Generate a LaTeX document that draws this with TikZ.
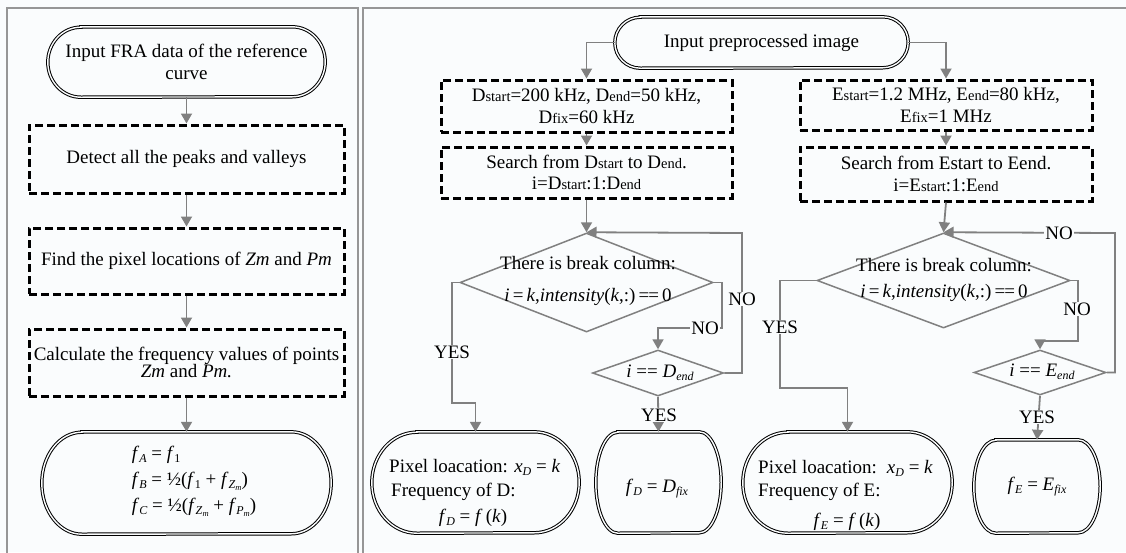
\documentclass[tikz,border=0pt]{standalone}
\usepackage{fontspec}
\setmainfont{Liberation Serif}
\usetikzlibrary{arrows.meta,shapes.geometric,calc}
\definecolor{bgc}{RGB}{250,252,253}
\definecolor{framec}{RGB}{150,150,150}
\definecolor{connc}{RGB}{128,128,128}
% small upright suffix on the baseline (D start, E end ...)
\newcommand{\sfx}[1]{{\fontsize{14.5}{15}\selectfont #1}}
% lowered subscript and second-level subscript
\newcommand{\lo}[1]{\raisebox{-0.35ex}{\fontsize{12}{12}\selectfont #1}}
\newcommand{\llo}[1]{\raisebox{-0.3ex}{\fontsize{8.5}{9}\selectfont #1}}
% double-lined terminator outline with elliptic ends: name, x radius, y radius
\newcommand{\drawterm}[3]{%
  \draw[termline] ($(#1.north west)+(#2,0)$) -- ($(#1.north east)+(-#2,0)$)
    arc[start angle=90,end angle=-90,x radius=#2pt,y radius=#3pt]
    -- ($(#1.south west)+(#2,0)$)
    arc[start angle=270,end angle=90,x radius=#2pt,y radius=#3pt] -- cycle;}
\begin{document}
\begin{tikzpicture}[x=1pt,y=-1pt,
  font=\fontsize{19}{21.5}\selectfont,
  term/.style={inner sep=0pt,align=center},
  termline/.style={draw=black,line width=1pt,double=bgc,double distance=1.4pt},
  dbox/.style={draw=black,line width=3pt,dash pattern=on 8pt off 4pt,align=center},
  dia/.style={diamond,draw=connc,line width=1.5pt,inner sep=0pt},
  txt/.style={inner sep=0pt,align=center},
  arr/.style={draw=connc,line width=1.8pt,-{Triangle[length=10pt,width=11pt]}},
  lbl/.style={fill=bgc,inner sep=1pt}]
\fill[bgc] (0,0) rectangle (1126,552);
\useasboundingbox (0,0) rectangle (1126,552);
% panel frames
\draw[framec,line width=1.6pt] (7,8) rectangle (358,570);
\draw[framec,line width=1.6pt] (363,8) rectangle (1140,570);

% ---------- left flow ----------
\node[term,minimum width=277,minimum height=70] (fra) at (186.5,62) {Input FRA data of the reference\\curve};
\drawterm{fra}{33}{35}
\node[dbox,minimum width=315,minimum height=68] (detect) at (186.5,159) {Detect all the peaks and valleys};
\node[dbox,minimum width=315,minimum height=66] (find) at (186.5,261) {Find the pixel locations of \textit{Zm} and \textit{Pm}};
\node[dbox,minimum width=315,minimum height=67,font=\fontsize{19}{17.5}\selectfont] (calcf) at (186.5,362.5) {Calculate the frequency values of points\\\textit{Zm} and \textit{Pm.}};
\node[term,align=left,font=\fontsize{19}{26}\selectfont] (res) at (194,481)
  {\textit{f}\lo{\textit{A}} = \textit{f}\lo{1}\\
   \textit{f}\lo{\textit{B}} = ½(\textit{f}\lo{1} + \textit{f}\lo{\textit{Z}\llo{\textit{m}}})\\
   \textit{f}\lo{\textit{C}} = ½(\textit{f}\lo{\textit{Z}\llo{\textit{m}}} + \textit{f}\lo{\textit{P}\llo{\textit{m}}})};
\node[minimum width=289,minimum height=102,inner sep=0pt] (resbox) at (186.5,483) {};
\drawterm{resbox}{40}{51}

\draw[arr] (fra.south) -- (detect.north);
\draw[arr] (detect.south) -- (find.north);
\draw[arr] (find.south) -- (calcf.north);
\draw[arr] (calcf.south) -- (resbox.north);

% ---------- right flow ----------
\node[term,minimum width=293,minimum height=51] (inp) at (761.5,42.5) {Input preprocessed image};
\drawterm{inp}{25.5}{25.5}

\node[dbox,minimum width=291,minimum height=52] (dpar) at (586.5,106)
  {D\sfx{start}=200 kHz, D\sfx{end}=50 kHz,\\D\sfx{fix}=60 kHz};
\node[dbox,minimum width=291,minimum height=51] (dsearch) at (586.5,172.5)
  {Search from D\sfx{start} to D\sfx{end}.\\i=D\sfx{start}:1:D\sfx{end}};
\node[dbox,minimum width=292,minimum height=50] (epar) at (946,105)
  {E\sfx{start}=1.2 MHz, E\sfx{end}=80 kHz,\\E\sfx{fix}=1 MHz};
\node[dbox,minimum width=292,minimum height=54] (esearch) at (946,174)
  {Search from Estart to Eend.\\i=E\sfx{start}:1:E\sfx{end}};

% decisions, D branch
\node[dia,minimum width=253,minimum height=99] (ddia) at (586.5,282.5) {};
\node[txt] (ddiatxt) at (588,281) {There is break column:\\[10pt]\textit{i}\,=\,\textit{k},\textit{intensity}(\textit{k},:)\,=\kern-1pt=\,0};
\node[dia,minimum width=131,minimum height=46] (dsm) at (658,373) {};
\node[txt] (dsmtxt) at (660,373) {\textit{i} == \textit{D}\lo{\textit{end}}};

% decisions, E branch
\node[dia,minimum width=253,minimum height=95] (edia) at (943.5,280.5) {};
\node[txt] (ediatxt) at (944,280) {There is break column:\\[5pt]\textit{i}\,=\,\textit{k},\textit{intensity}(\textit{k},:)\,=\kern-1pt=\,0};
\node[dia,minimum width=132,minimum height=45] (esm) at (1040,372.5) {};
\node[txt] (esmtxt) at (1042,372) {\textit{i} == \textit{E}\lo{\textit{end}}};

% results, D branch
\node[minimum width=207,minimum height=101,inner sep=0pt] (dres1) at (475.5,482.5) {};
\drawterm{dres1}{45}{50.5}
\node[txt,anchor=west] (dres1a) at (389,467) {Pixel loacation: \textit{x}\lo{\textit{D}} = \textit{k}};
\node[txt,anchor=west] (dres1b) at (391,492) {Frequency of D:};
\node[txt] (dres1c) at (473,518) {\textit{f}\lo{\textit{D}} = \textit{f}\,(\textit{k})};
\node[minimum width=125,minimum height=101,inner sep=0pt] (dres2) at (658.5,482.5) {};
\drawterm{dres2}{22}{50.5}
\node[txt] (dres2t) at (657,489) {\textit{f}\lo{\textit{D}} = \textit{D}\lo{\textit{fix}}};

% results, E branch
\node[minimum width=209,minimum height=101,inner sep=0pt] (eres1) at (847.5,482.5) {};
\drawterm{eres1}{45}{50.5}
\node[txt,anchor=west] (eres1a) at (758,468) {Pixel loacation:\hspace{10pt}\textit{x}\lo{\textit{D}} = \textit{k}};
\node[txt,anchor=west] (eres1b) at (758,492) {Frequency of E:};
\node[txt] (eres1c) at (847,522) {\textit{f}\lo{\textit{E}} = \textit{f}\,(\textit{k})};
\node[minimum width=126,minimum height=93,inner sep=0pt] (eres2) at (1037,486.5) {};
\drawterm{eres2}{22}{46.5}
\node[txt] (eres2t) at (1037,487) {\textit{f}\lo{\textit{E}} = \textit{E}\lo{\textit{fix}}};

% bend points of the connectors
\coordinate (dyA) at (452,403);
\coordinate (dnA) at (722,328);
\coordinate (dlA) at (742,233);
\coordinate (eyA) at (780,388);
\coordinate (enA) at (1078,341);
\coordinate (elA) at (1115,233);

% connectors
\draw[arr] (inp.west) -| (dpar.north);
\draw[arr] (inp.east) -| (epar.north);
\draw[arr] (dpar.south) -- (dsearch.north);
\draw[arr] (epar.south) -- (esearch.north);
\draw[arr] (dsearch.south) -- (ddia.north);
\draw[arr] (esearch.south) -- (edia.north);
\draw[arr] (ddia.west) -| (dyA) -| (dres1.north);
\draw[arr] (ddia.east) -| (dnA) -| (dsm.north);
\draw[arr] (dsm.east) -| (dlA) -- (ddia.north);
\draw[arr] (dsm.south) -- (dres2.north);
\draw[arr] (edia.west) -| (eyA) -| (eres1.north);
\draw[arr] (edia.east) -| (enA) -| (esm.north);
\draw[arr] (esm.east) -| (elA) -- (edia.north);
\draw[arr] (esm.south) -- (eres2.north);

% branch labels
\node[lbl] (lyd) at (452,352) {YES};
\node[lbl] (lnd) at (705,328) {NO};
\node[lbl] (lld) at (742,299) {NO};
\node[lbl] (lysd) at (659,415) {YES};
\node[lbl] (lye) at (780,327) {YES};
\node[lbl] (lne) at (1077,309) {NO};
\node[lbl] (lle) at (1059,233) {NO};
\node[lbl] (lyse) at (1037,417) {YES};
\end{tikzpicture}
\end{document}
